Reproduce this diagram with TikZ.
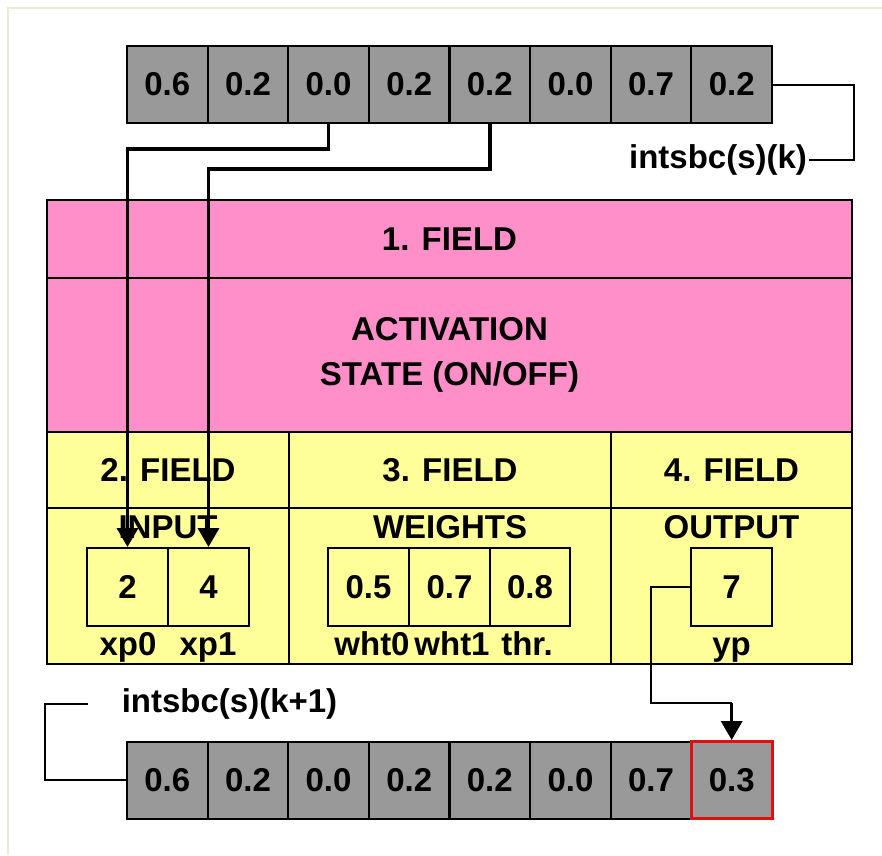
\documentclass[tikz,border=0pt]{standalone}
\usepackage{fontspec}
\setmainfont{Liberation Sans}
\usetikzlibrary{arrows.meta,calc}
\definecolor{cellgray}{HTML}{999999}
\definecolor{fieldpink}{HTML}{FF8FC8}
\definecolor{fieldyellow}{HTML}{FFFF99}
\definecolor{hired}{HTML}{E01010}
\definecolor{framec}{HTML}{ECEDD6}
\begin{document}
\begin{tikzpicture}[x=1pt,y=-1pt,
  font=\fontsize{33}{38}\selectfont\bfseries,
  cell/.style={draw=black, line width=2pt, fill=cellgray, minimum width=80.6pt, minimum height=77pt, inner sep=0pt},
  region/.style={draw=black, line width=2pt, inner sep=0pt},
  valbox/.style={draw=black, line width=2pt, fill=fieldyellow, minimum width=80.6pt, minimum height=78pt, inner sep=0pt},
  txt/.style={inner sep=0pt},
  sublbl/.style={inner sep=0pt, anchor=base},
  link/.style={line width=2pt},
  feed/.style={line width=3.5pt, -{Triangle[length=19pt,width=21pt]}}
]
\useasboundingbox (0,0) rectangle (882,855);
\fill[white] (0,0) rectangle (882,855);
\draw[framec, line width=1.5pt] (8,855) -- (8,8) -- (882,8);

% top array
\foreach \v [count=\i from 0] in {0.6,0.2,0.0,0.2,0.2,0.0,0.7,0.2}
  \node[cell] (t\i) at ({127+80.625*(\i+0.5)},84.5) {\v};
\node[txt] (klbl) at (718,160) {intsbc(s)(k)};

% fields
\node[region, fill=fieldpink, minimum width=805pt, minimum height=78pt] (f1) at (449.5,239) {1. FIELD};
\node[region, fill=fieldpink, minimum width=805pt, minimum height=154pt, align=center,
      font=\fontsize{33}{45}\selectfont\bfseries] (act) at (449.5,355) {ACTIVATION\\STATE (ON/OFF)};
\node[region, fill=fieldyellow, minimum width=242pt, minimum height=76pt] (f2) at (168,470) {2. FIELD};
\node[region, fill=fieldyellow, minimum width=322pt, minimum height=76pt] (f3) at (450,470) {3. FIELD};
\node[region, fill=fieldyellow, minimum width=241pt, minimum height=76pt] (f4) at (731.5,470) {4. FIELD};
\node[region, fill=fieldyellow, minimum width=242pt, minimum height=156pt] (inreg) at (168,586) {};
\node[region, fill=fieldyellow, minimum width=322pt, minimum height=156pt] (wreg) at (450,586) {};
\node[region, fill=fieldyellow, minimum width=241pt, minimum height=156pt] (outreg) at (731.5,586) {};

\node[txt] (inlbl) at (168,527) {INPUT};
\node[txt] (wlbl) at (450,527) {WEIGHTS};
\node[txt] (outlbl) at (731.5,527) {OUTPUT};

% value boxes
\node[valbox] (xp0) at (127.5,587) {2};
\node[valbox] (xp1) at (208.5,587) {4};
\node[valbox] (w0) at (368.5,587) {0.5};
\node[valbox] (w1) at (449.5,587) {0.7};
\node[valbox] (w2) at (530,587) {0.8};
\node[valbox] (ypv) at (731.5,587) {7};

\node[sublbl] (xp0l) at (128,655) {xp0};
\node[sublbl] (xp1l) at (208,655) {xp1};
\node[sublbl] (w0l) at (372,655) {wht0};
\node[sublbl] (w1l) at (452,655) {wht1};
\node[sublbl] (w2l) at (527,655) {thr.};
\node[sublbl] (ypl) at (731.5,655) {yp};

% bottom array
\foreach \v [count=\i from 0] in {0.6,0.2,0.0,0.2,0.2,0.0,0.7}
  \node[cell] (b\i) at ({127+80.625*(\i+0.5)},780) {\v};
\node[cell, draw=hired, line width=3pt] (b7) at ({127+80.625*7.5},780) {0.3};
\node[txt] (k1lbl) at (229.5,704) {intsbc(s)(k+1)};

% connectors
\draw[link] (t7.east) -- ++(81,0) |- ($(klbl.east)+(2,0)$);
\draw[link] (b0.west) -- ++(-81,0) |- ($(k1lbl.west)+(-34,0)$);
\draw[feed] (t2.south) -- ++(0,25) -| (xp0.north);
\draw[feed] (t4.south) -- ++(0,45) -| (xp1.north);
\coordinate (c1) at (651,703);
\draw[link] (ypv.west) -| (c1) -- (c1 -| b7.north);
\draw[feed] (c1 -| b7.north) -- (b7.north);
\end{tikzpicture}
\end{document}
